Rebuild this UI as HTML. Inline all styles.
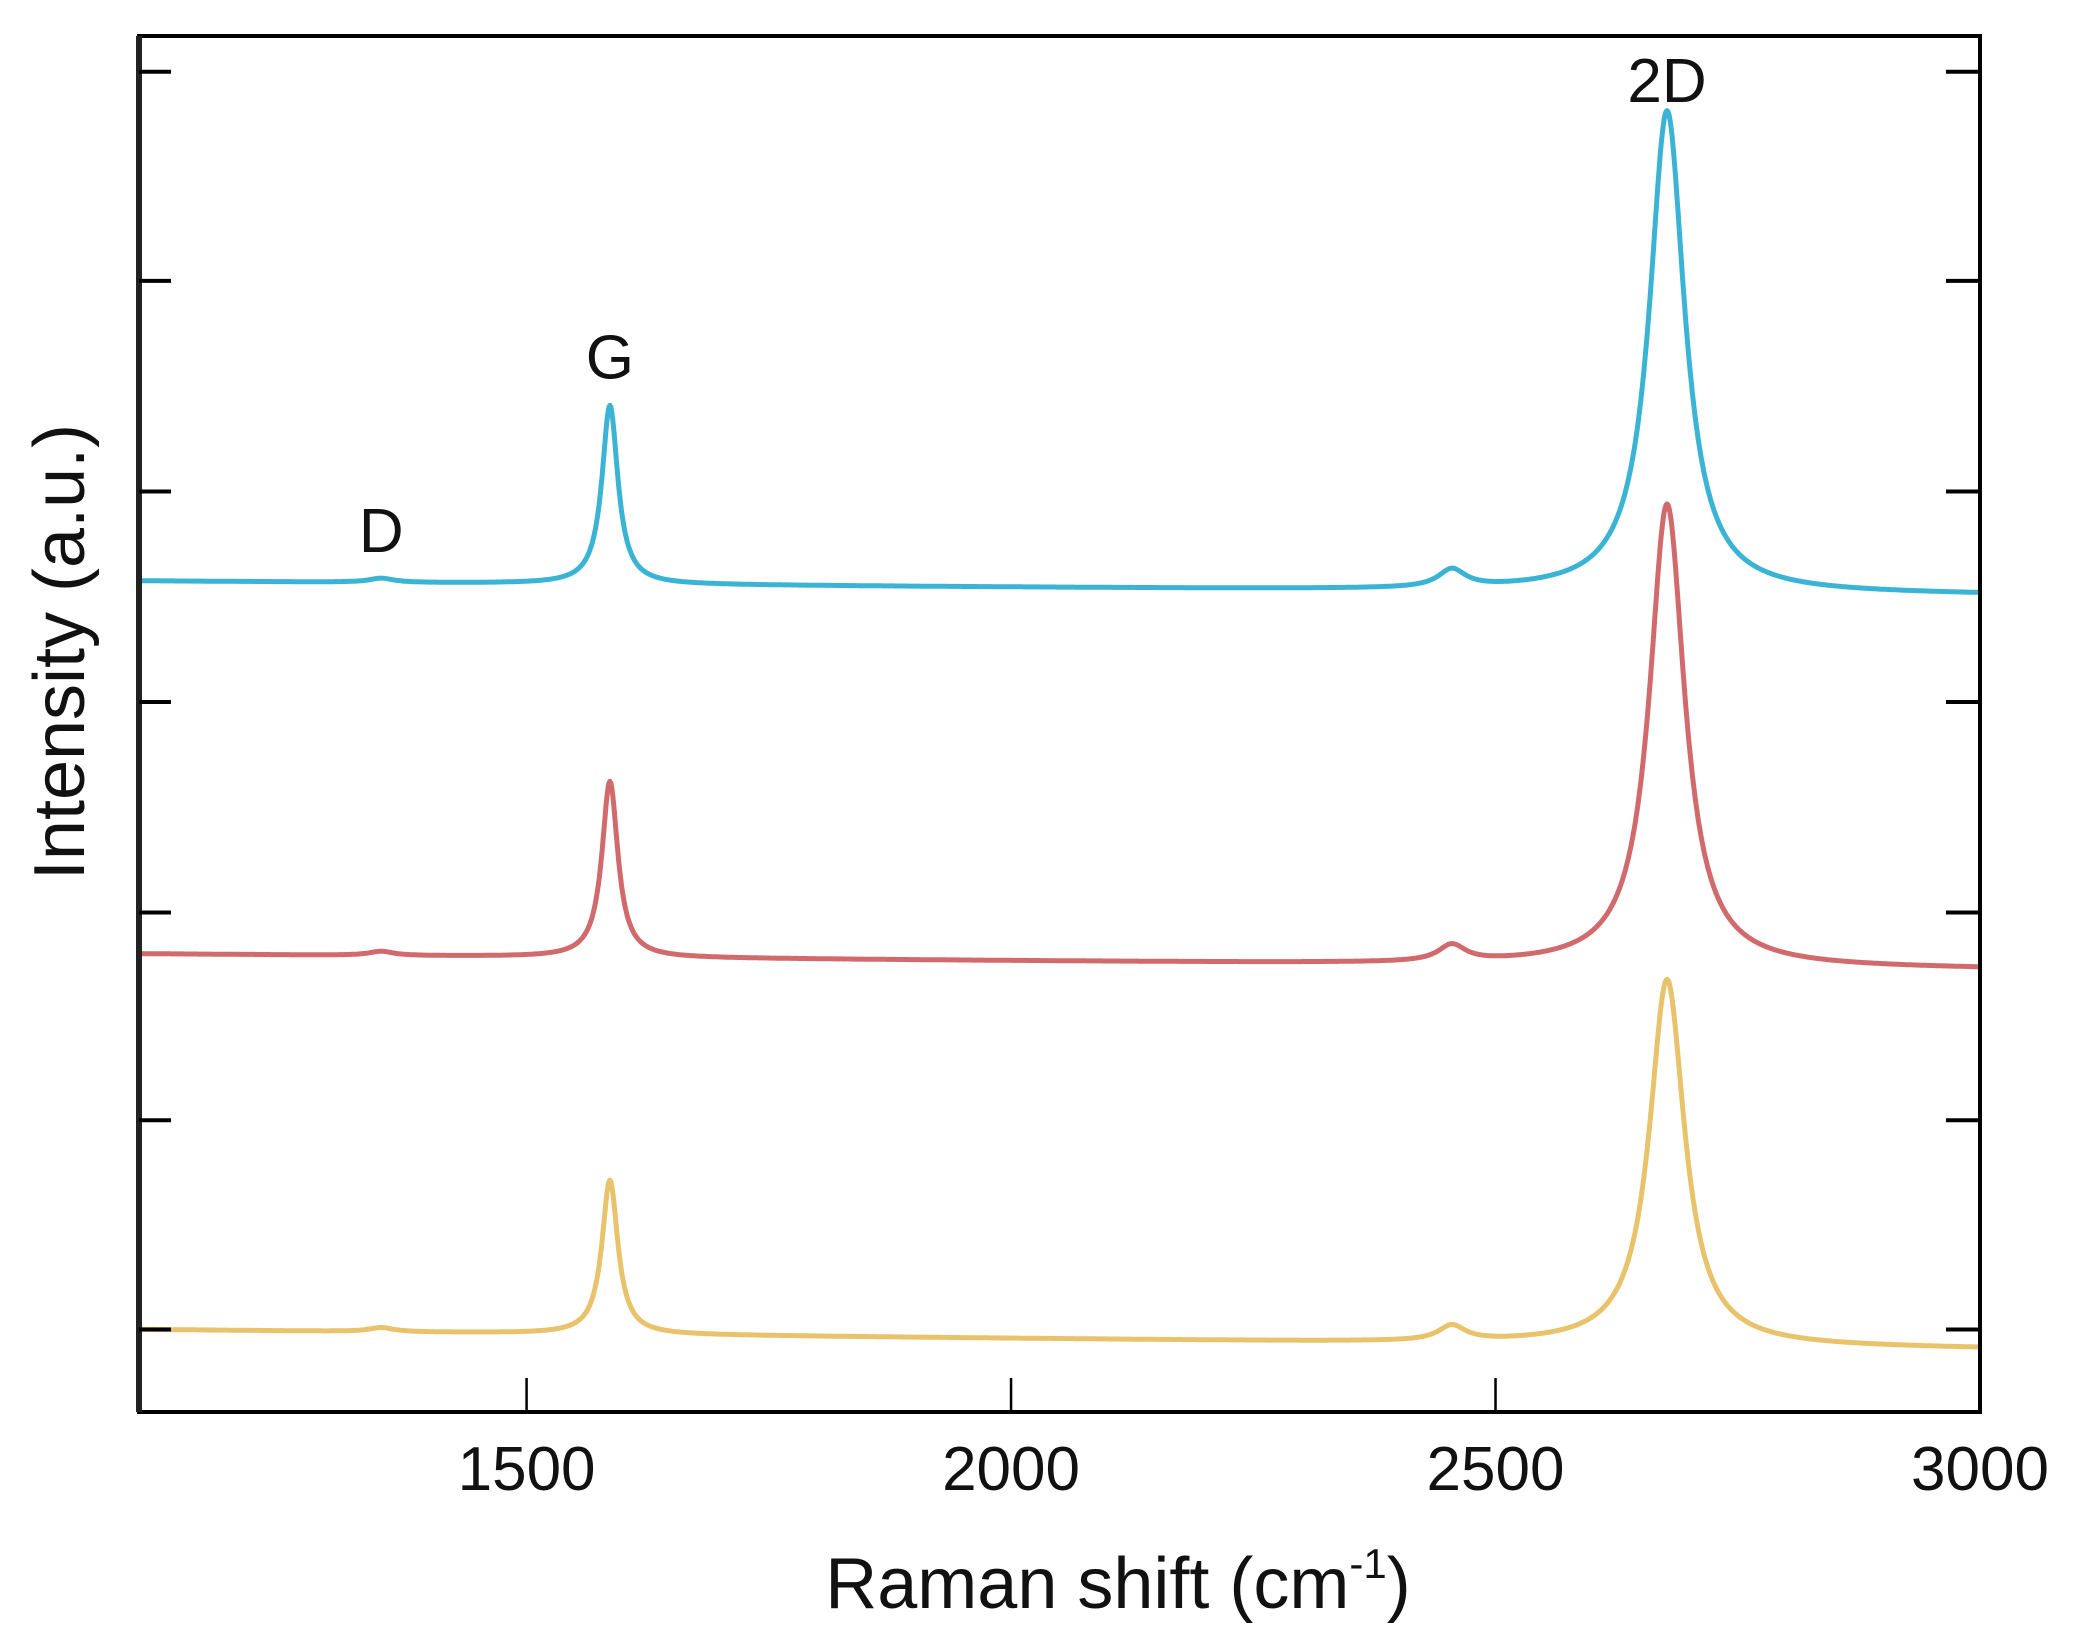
<!DOCTYPE html>
<html><head><meta charset="utf-8">
<style>
html,body{margin:0;padding:0;background:#fff;}
svg{display:block;font-family:"Liberation Sans",Arial,sans-serif;}
</style></head>
<body>
<svg id="chart" width="2082" height="1651" viewBox="0 0 2082 1651" xmlns="http://www.w3.org/2000/svg"></svg>
<script>
// ---- data ----
const xTicks = [1500, 2000, 2500, 3000];
const xTickLabels = ["1500", "2000", "2500", "3000"];
const yTicks = [6, 21.2, 36.3, 51.6, 66.9, 82.2, 97.4];
const seriesNames = ["top-blue", "middle-red", "bottom-yellow"];
const seriesColors = ["#3bb3d5", "#d06a6c", "#e9c26c"];
const baselineStart = [60.4, 33.3, 6.0];
const baselineEnd = [59.4, 32.2, 4.6];
const peakCenters = [1350, 1586, 2455, 2677];
const peakWidths = [30, 20, 34, 44];
const heightsBlue = [0.3, 13.0, 1.3, 35.0];
const heightsRed = [0.3, 12.8, 1.2, 33.6];
const heightsYellow = [0.3, 11.2, 1.1, 26.6];
const peakHeights = [heightsBlue, heightsRed, heightsYellow];
const peakLabels = ["D", "G", "2D"];
const peakLabelX = [1350, 1586, 2677];
const peakLabelY = [62.5, 75.1, 95.2];

// ---- layout ----
const L = 139, R = 1980, T = 36, B = 1412;
const xMin = 1100, xMax = 3000, yMin = 0, yMax = 100;
const xs = v => L + (v - xMin) / (xMax - xMin) * (R - L);
const ys = v => B - (v - yMin) / (yMax - yMin) * (B - T);
const NS = "http://www.w3.org/2000/svg";
const svg = document.getElementById('chart');
function mk(tag, attrs, parent) {
  const e = document.createElementNS(NS, tag);
  for (const k in attrs) e.setAttribute(k, attrs[k]);
  (parent || svg).appendChild(e);
  return e;
}

// series
const gS = mk('g', {});


seriesNames.forEach((name, si) => {
  let d = '';
  for (let x = xMin; x <= xMax; x += 1) {
    let y = baselineStart[si] + (baselineEnd[si] - baselineStart[si]) * (x - xMin) / (xMax - xMin);
    peakCenters.forEach((c, pi) => {
      const hw = peakWidths[pi] / 2;
      y += peakHeights[si][pi] * hw * hw / ((x - c) * (x - c) + hw * hw);
    });
    d += (x === xMin ? 'M' : 'L') + xs(x).toFixed(1) + ',' + ys(y).toFixed(1);
  }
  const p = mk('path', {d: d, fill: 'none', stroke: seriesColors[si], 'stroke-width': 5, 'stroke-linejoin': 'round'}, gS);
  
  
});

// frame
const frame = mk('rect', {x: L, y: T, width: R - L, height: B - T, fill: 'none', stroke: '#000', 'stroke-width': 4});


const leftAxis = mk('line', {x1: L, x2: L, y1: T, y2: B, stroke: '#222', 'stroke-width': 6});



// y ticks
yTicks.forEach(v => {
  const t = mk('line', {x1: R - 34, x2: R, y1: ys(v), y2: ys(v), stroke: '#000', 'stroke-width': 4});
  
  
  const t2 = mk('line', {x1: L, x2: L + 32, y1: ys(v), y2: ys(v), stroke: '#000', 'stroke-width': 4});
  
  
});

// x ticks and labels
xTicks.forEach((v, i) => {
  const t = mk('line', {x1: xs(v), x2: xs(v), y1: B, y2: B - 34, stroke: '#000', 'stroke-width': 2.5});
  
  
  const lb = mk('text', {x: xs(v), y: 1490, 'text-anchor': 'middle', 'font-size': 62, fill: '#111'});
  lb.textContent = xTickLabels[i];
  
  
});

// peak labels
peakLabels.forEach((s, i) => {
  const lb = mk('text', {x: xs(peakLabelX[i]), y: ys(peakLabelY[i]), 'text-anchor': 'middle', 'font-size': 62, fill: '#111'});
  lb.textContent = s;
  
  
});

// axis titles
const xt = mk('text', {x: 1118, y: 1608, 'text-anchor': 'middle', 'font-size': 72, fill: '#111'});
xt.innerHTML = 'Raman shift (cm<tspan font-size="42" dy="-30">-1</tspan><tspan dy="30">)</tspan>';


const yt = mk('text', {x: 0, y: 0, 'text-anchor': 'middle', 'font-size': 72, fill: '#111', transform: 'translate(84,652) rotate(-90)'});
yt.textContent = 'Intensity (a.u.)';


</script>
</body></html>
